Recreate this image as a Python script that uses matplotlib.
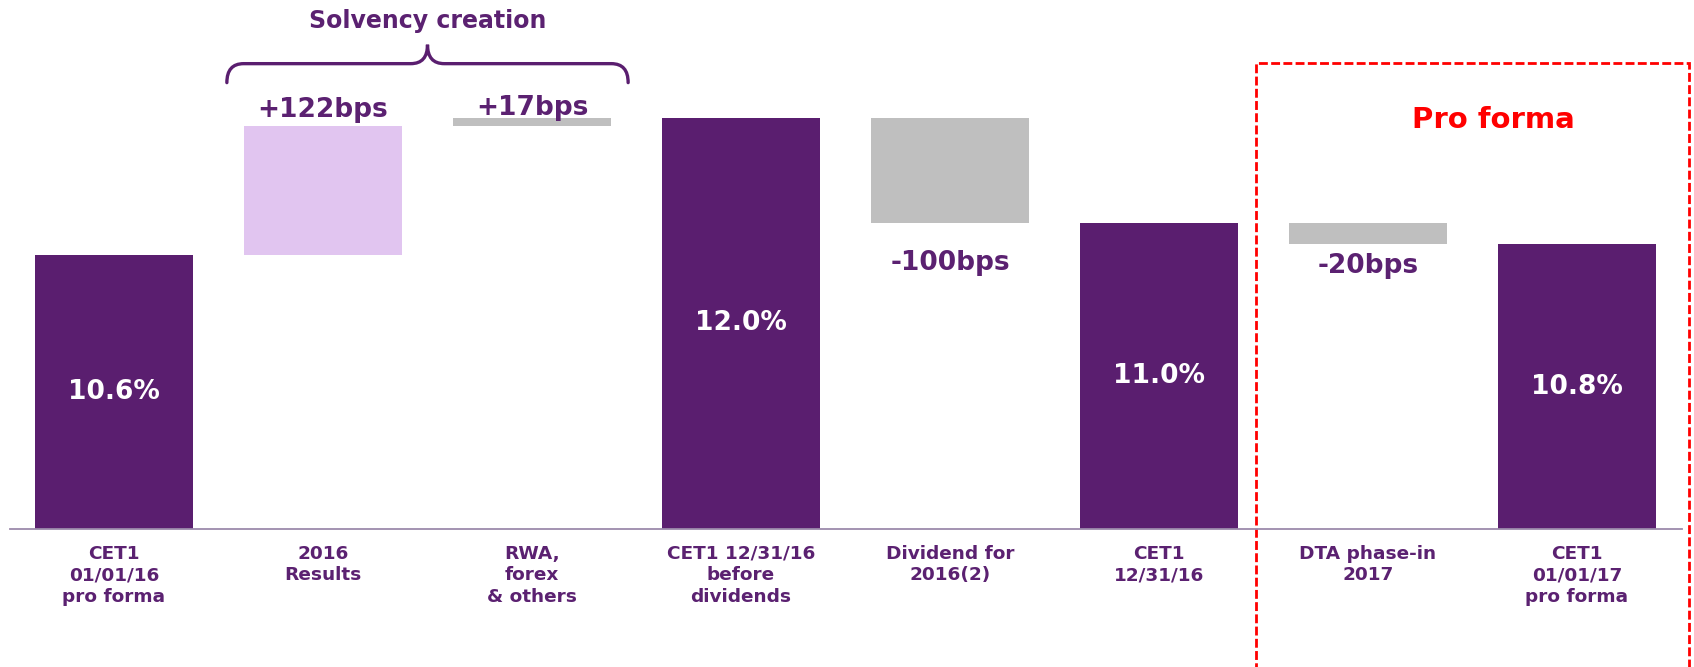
import matplotlib
matplotlib.use('Agg')
import matplotlib.pyplot as plt
import matplotlib.transforms as mtransforms
from matplotlib.path import Path
from matplotlib.patches import PathPatch, Rectangle

# categories along the waterfall
categories = ['CET1\n01/01/16\npro forma', '2016\nResults', 'RWA,\nforex\n& others',
              'CET1 12/31/16\nbefore\ndividends', 'Dividend for\n2016(2)', 'CET1\n12/31/16',
              'DTA phase-in\n2017', 'CET1\n01/01/17\npro forma']
kinds = ['total', 'step', 'step', 'total', 'step', 'total', 'step', 'total']

# CET1 ratio (%) as drawn on the chart
start_level = 10.6
steps = [0.0, 1.22, 0.08, 0.0, -1.00, 0.0, -0.20, 0.0]
value_labels = ['10.6%', '+122bps', '+17bps', '12.0%', '-100bps', '11.0%', '-20bps', '10.8%']

DARK = '#5A1E6F'
LIGHT = '#E1C5F0'
GREY = '#BFBFBF'
TEXT = '#5B2171'
colors = [DARK, LIGHT, GREY, DARK, GREY, DARK, GREY, DARK]
Y0 = 8.0  # bottom of the value axis

fig = plt.figure(figsize=(16.94, 6.67), dpi=100)
ax = fig.add_axes([9.5 / 1694, (667 - 529) / 667, 1672 / 1694, 529 / 667])
ax.set_xlim(-0.5, 7.5)
ax.set_ylim(Y0, Y0 + 529 / 105.4)

for s in ['top', 'left', 'right']:
    ax.spines[s].set_visible(False)
ax.spines['bottom'].set_color('#9C8AAB')
ax.spines['bottom'].set_linewidth(1.3)
ax.set_xticks([])
ax.set_yticks([])

level = start_level
width = 0.756
# label offsets (points) from the bar end
pads = [0, 6.5, 2.2, 0, -19, 0, -6, 0]

for i, (kind, step) in enumerate(zip(kinds, steps)):
    if kind == 'total':
        ax.bar(i, level - Y0, bottom=Y0, width=width, color=colors[i])
        ax.text(i, (level + Y0) / 2, value_labels[i], ha='center', va='center',
                color='white', fontsize=19, fontweight='bold')
    else:
        new_level = level + step
        lo, hi = min(level, new_level), max(level, new_level)
        ax.bar(i, hi - lo, bottom=lo, width=width, color=colors[i])
        if step > 0:
            ax.annotate(value_labels[i], xy=(i, hi), xytext=(0, pads[i]),
                        textcoords='offset points', ha='center', va='baseline',
                        color=TEXT, fontsize=19, fontweight='bold')
        else:
            ax.annotate(value_labels[i], xy=(i, lo), xytext=(0, pads[i]),
                        textcoords='offset points', ha='center', va='top',
                        color=TEXT, fontsize=19, fontweight='bold')
        level = new_level

# category labels under the axis
trans = mtransforms.blended_transform_factory(ax.transData, ax.transAxes)
for i, cat in enumerate(categories):
    ax.annotate(cat, xy=(i, 0), xycoords=trans, xytext=(0, -11.5),
                textcoords='offset points', ha='center', va='top',
                multialignment='center', color=TEXT, fontsize=13.3,
                fontweight='bold', linespacing=1.25, annotation_clip=False)

# brace over the two solvency creation steps
x0, x1, xc = 1 - 0.46, 2 + 0.46, 1.5
rx, ry = 0.08, 0.18
y_mid = 12.415
y_end = y_mid - ry
y_tip = y_mid + ry
verts = [(x0, y_end), (x0, y_mid), (x0 + rx, y_mid),
         (xc - rx, y_mid), (xc, y_mid), (xc, y_tip),
         (xc, y_mid), (xc + rx, y_mid),
         (x1 - rx, y_mid), (x1, y_mid), (x1, y_end)]
codes = [Path.MOVETO, Path.CURVE3, Path.CURVE3,
         Path.LINETO, Path.CURVE3, Path.CURVE3,
         Path.CURVE3, Path.CURVE3,
         Path.LINETO, Path.CURVE3, Path.CURVE3]
ax.add_patch(PathPatch(Path(verts, codes), fill=False, edgecolor=DARK, lw=2.4,
                       capstyle='round', clip_on=False))
ax.text(xc, 12.815, 'Solvency creation', ha='center', va='center',
        color=TEXT, fontsize=17, fontweight='bold')

# pro forma box
ax.add_patch(Rectangle((5.464, 6.0), 7.536 - 5.464, 12.425 - 6.0, fill=False,
                       edgecolor='#FF0000', lw=2.0, linestyle=(0, (3.2, 1.2)),
                       clip_on=False))
ax.text(6.6, 11.885, 'Pro forma', ha='center', va='center', color='#FF0000',
        fontsize=21, fontweight='bold')

fig.savefig('out.png', dpi=100)
